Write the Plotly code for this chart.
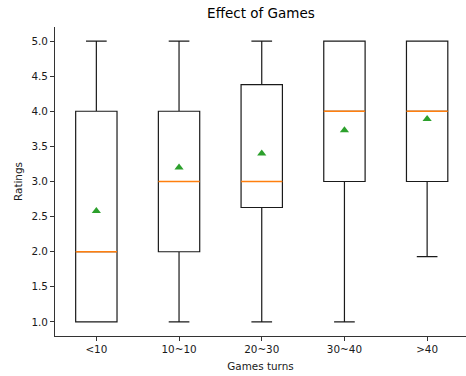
import plotly.graph_objects as go

categories = ["<10", "10~10", "20~30", "30~40", ">40"]
positions = [1, 2, 3, 4, 5]
lower_whisker = [1.0, 1.0, 1.0, 1.0, 1.93]
q1_vals = [1.0, 2.0, 2.63, 3.0, 3.0]
median_vals = [2.0, 3.0, 3.0, 4.0, 4.0]
q3_vals = [4.0, 4.0, 4.38, 5.0, 5.0]
upper_whisker = [5.0, 5.0, 5.0, 5.0, 5.0]
mean_vals = [2.58, 3.20, 3.40, 3.73, 3.89]

box_width = 0.5
font = "DejaVu Sans"

fig = go.Figure()
fig.add_trace(go.Box(
    x=positions, q1=q1_vals, median=median_vals, q3=q3_vals,
    lowerfence=lower_whisker, upperfence=upper_whisker,
    width=box_width, whiskerwidth=0.5,
    line=dict(color="#1a1a1a", width=1.2),
    fillcolor="rgba(0,0,0,0)", boxpoints=False, showlegend=False,
    hoverinfo="skip",
))

mx, my = [], []
for p, m in zip(positions, median_vals):
    mx += [p - box_width / 2, p + box_width / 2, None]
    my += [m, m, None]
fig.add_trace(go.Scatter(x=mx, y=my, mode="lines",
                         line=dict(color="#ff7f0e", width=1.3),
                         showlegend=False, hoverinfo="skip"))
fig.add_trace(go.Scatter(x=positions, y=mean_vals, mode="markers",
                         marker=dict(symbol="triangle-up", color="#2ca02c", size=8,
                                     line=dict(width=0)),
                         showlegend=False, hoverinfo="skip"))

fig.update_layout(
    width=466, height=376,
    margin=dict(l=55, r=0, t=27, b=40),
    paper_bgcolor="white", plot_bgcolor="white",
    font=dict(family=font, size=10.4, color="#1a1a1a"),
    title=dict(text="Effect of Games", x=0.56, xanchor="center", y=0.965, yanchor="middle",
               font=dict(family=font, size=13.5, color="black")),
    xaxis=dict(range=[0.5, 5.47], tickmode="array", tickvals=positions, ticktext=categories,
               showgrid=False, zeroline=False, showline=True, linecolor="#333", linewidth=1,
               ticks="outside", ticklen=4, tickcolor="#333",
               title=dict(text="Games turns", font=dict(family=font, size=10.4), standoff=8)),
    yaxis=dict(range=[0.8, 5.2], tickmode="array",
               tickvals=[1.0, 1.5, 2.0, 2.5, 3.0, 3.5, 4.0, 4.5, 5.0],
               ticktext=["1.0", "1.5", "2.0", "2.5", "3.0", "3.5", "4.0", "4.5", "5.0"],
               showgrid=False, zeroline=False, showline=True, linecolor="#333", linewidth=1,
               ticks="outside", ticklen=4, tickcolor="#333",
               title=dict(text="Ratings", font=dict(family=font, size=10.4), standoff=6)),
)

fig.write_html("out.html")
